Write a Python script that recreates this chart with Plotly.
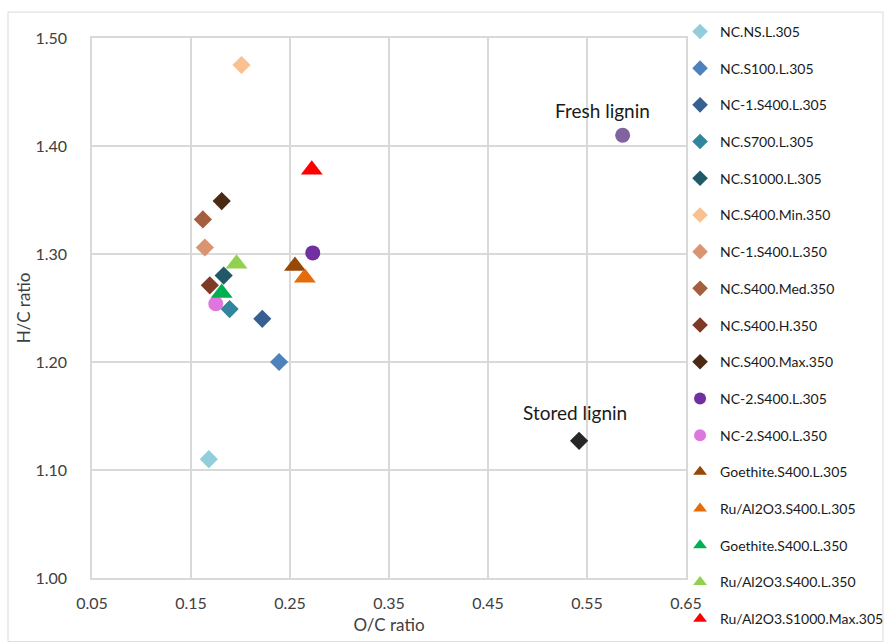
import plotly.graph_objects as go

names = ["NC.NS.L.305", "NC.S100.L.305", "NC-1.S400.L.305", "NC.S700.L.305", "NC.S1000.L.305",
         "NC.S400.Min.350", "NC-1.S400.L.350", "NC.S400.Med.350", "NC.S400.H.350", "NC.S400.Max.350",
         "NC-2.S400.L.305", "NC-2.S400.L.350", "Goethite.S400.L.305", "Ru/Al2O3.S400.L.305",
         "Goethite.S400.L.350", "Ru/Al2O3.S400.L.350", "Ru/Al2O3.S1000.Max.305"]
oc = [0.168, 0.239, 0.222, 0.189, 0.183, 0.201, 0.164, 0.162, 0.169, 0.181,
      0.273, 0.175, 0.255, 0.265, 0.181, 0.196, 0.272]
hc = [1.110, 1.200, 1.240, 1.249, 1.280, 1.475, 1.306, 1.332, 1.271, 1.349,
      1.301, 1.254, 1.289, 1.278, 1.264, 1.291, 1.378]
symbols = ["diamond"] * 10 + ["circle"] * 2 + ["triangle-up"] * 5
colors = ["#92CDDC", "#4F81BD", "#376092", "#31859C", "#215968",
          "#FAC090", "#D99572", "#A65F3E", "#7F3A26", "#4B2A14",
          "#7030A0", "#DD77DD", "#974706", "#E46C0A", "#00B050", "#92D050", "#FF0000"]

ref_names = ["Fresh lignin", "Stored lignin"]
ref_oc = [0.586, 0.542]
ref_hc = [1.410, 1.127]
ref_symbols = ["circle", "diamond"]
ref_colors = ["#8064A2", "#262626"]

xticks = [0.05, 0.15, 0.25, 0.35, 0.45, 0.55, 0.65]
yticks = [1.00, 1.10, 1.20, 1.30, 1.40, 1.50]

FONT = "Lato, 'Open Sans', sans-serif"
SIZES = {"diamond": 14, "circle": 15, "triangle-up": 19}

fig = go.Figure()
for n, x, y, s, c in zip(names, oc, hc, symbols, colors):
    fig.add_trace(go.Scatter(x=[x], y=[y], mode="markers", name=n, legendgroup=n,
                             marker=dict(symbol=s, color=c, size=SIZES[s], line=dict(width=0))))
for n, x, y, s, c in zip(ref_names, ref_oc, ref_hc, ref_symbols, ref_colors):
    fig.add_trace(go.Scatter(x=[x], y=[y], mode="markers", name=n, showlegend=False,
                             marker=dict(symbol=s, color=c, size=SIZES[s], line=dict(width=0))))

fig.add_annotation(x=ref_oc[0], y=ref_hc[0], text=ref_names[0], showarrow=False,
                   xshift=-20, yshift=25, font=dict(size=19, color="#1a1a1a", family=FONT))
fig.add_annotation(x=ref_oc[1], y=ref_hc[1], text=ref_names[1], showarrow=False,
                   xshift=-4, yshift=28, font=dict(size=19, color="#1a1a1a", family=FONT))

fig.add_shape(type="rect", xref="paper", yref="paper", x0=-0.1414, x1=1.3316, y0=-0.118, y1=1.048,
              line=dict(color="#D9D9D9", width=1), layer="below")

axis_common = dict(showgrid=True, gridcolor="#D9D9D9", gridwidth=1.5, showline=True,
                   linecolor="#D9D9D9", linewidth=1.5, mirror=True, zeroline=False,
                   ticks="outside", tickcolor="rgba(0,0,0,0)",
                   tickfont=dict(size=16, color="#404040", family=FONT))
fig.update_xaxes(range=[0.05, 0.65], tickvals=xticks, ticktext=[f"{v:.2f}" for v in xticks],
                 ticklen=10, title=dict(text="O/C ratio", font=dict(size=17, color="#404040", family=FONT), standoff=8),
                 **axis_common)
fig.update_yaxes(range=[1.00, 1.50], tickvals=yticks, ticktext=[f"{v:.2f}" for v in yticks],
                 ticklen=20, title=dict(text="H/C ratio", font=dict(size=17, color="#404040", family=FONT), standoff=0),
                 **axis_common)

fig.update_layout(
    width=885, height=642,
    margin=dict(l=92, r=199, t=38, b=64, autoexpand=False),
    paper_bgcolor="white", plot_bgcolor="white",
    font=dict(family=FONT, color="#262626"),
    showlegend=True,
    legend=dict(x=0.99, y=1.041, xanchor="left", yanchor="top",
                font=dict(size=14, color="#1a1a1a", family=FONT),
                itemsizing="constant", tracegroupgap=15.5, bgcolor="rgba(0,0,0,0)",
                maxheight=700),
)

fig.write_html("out.html")
